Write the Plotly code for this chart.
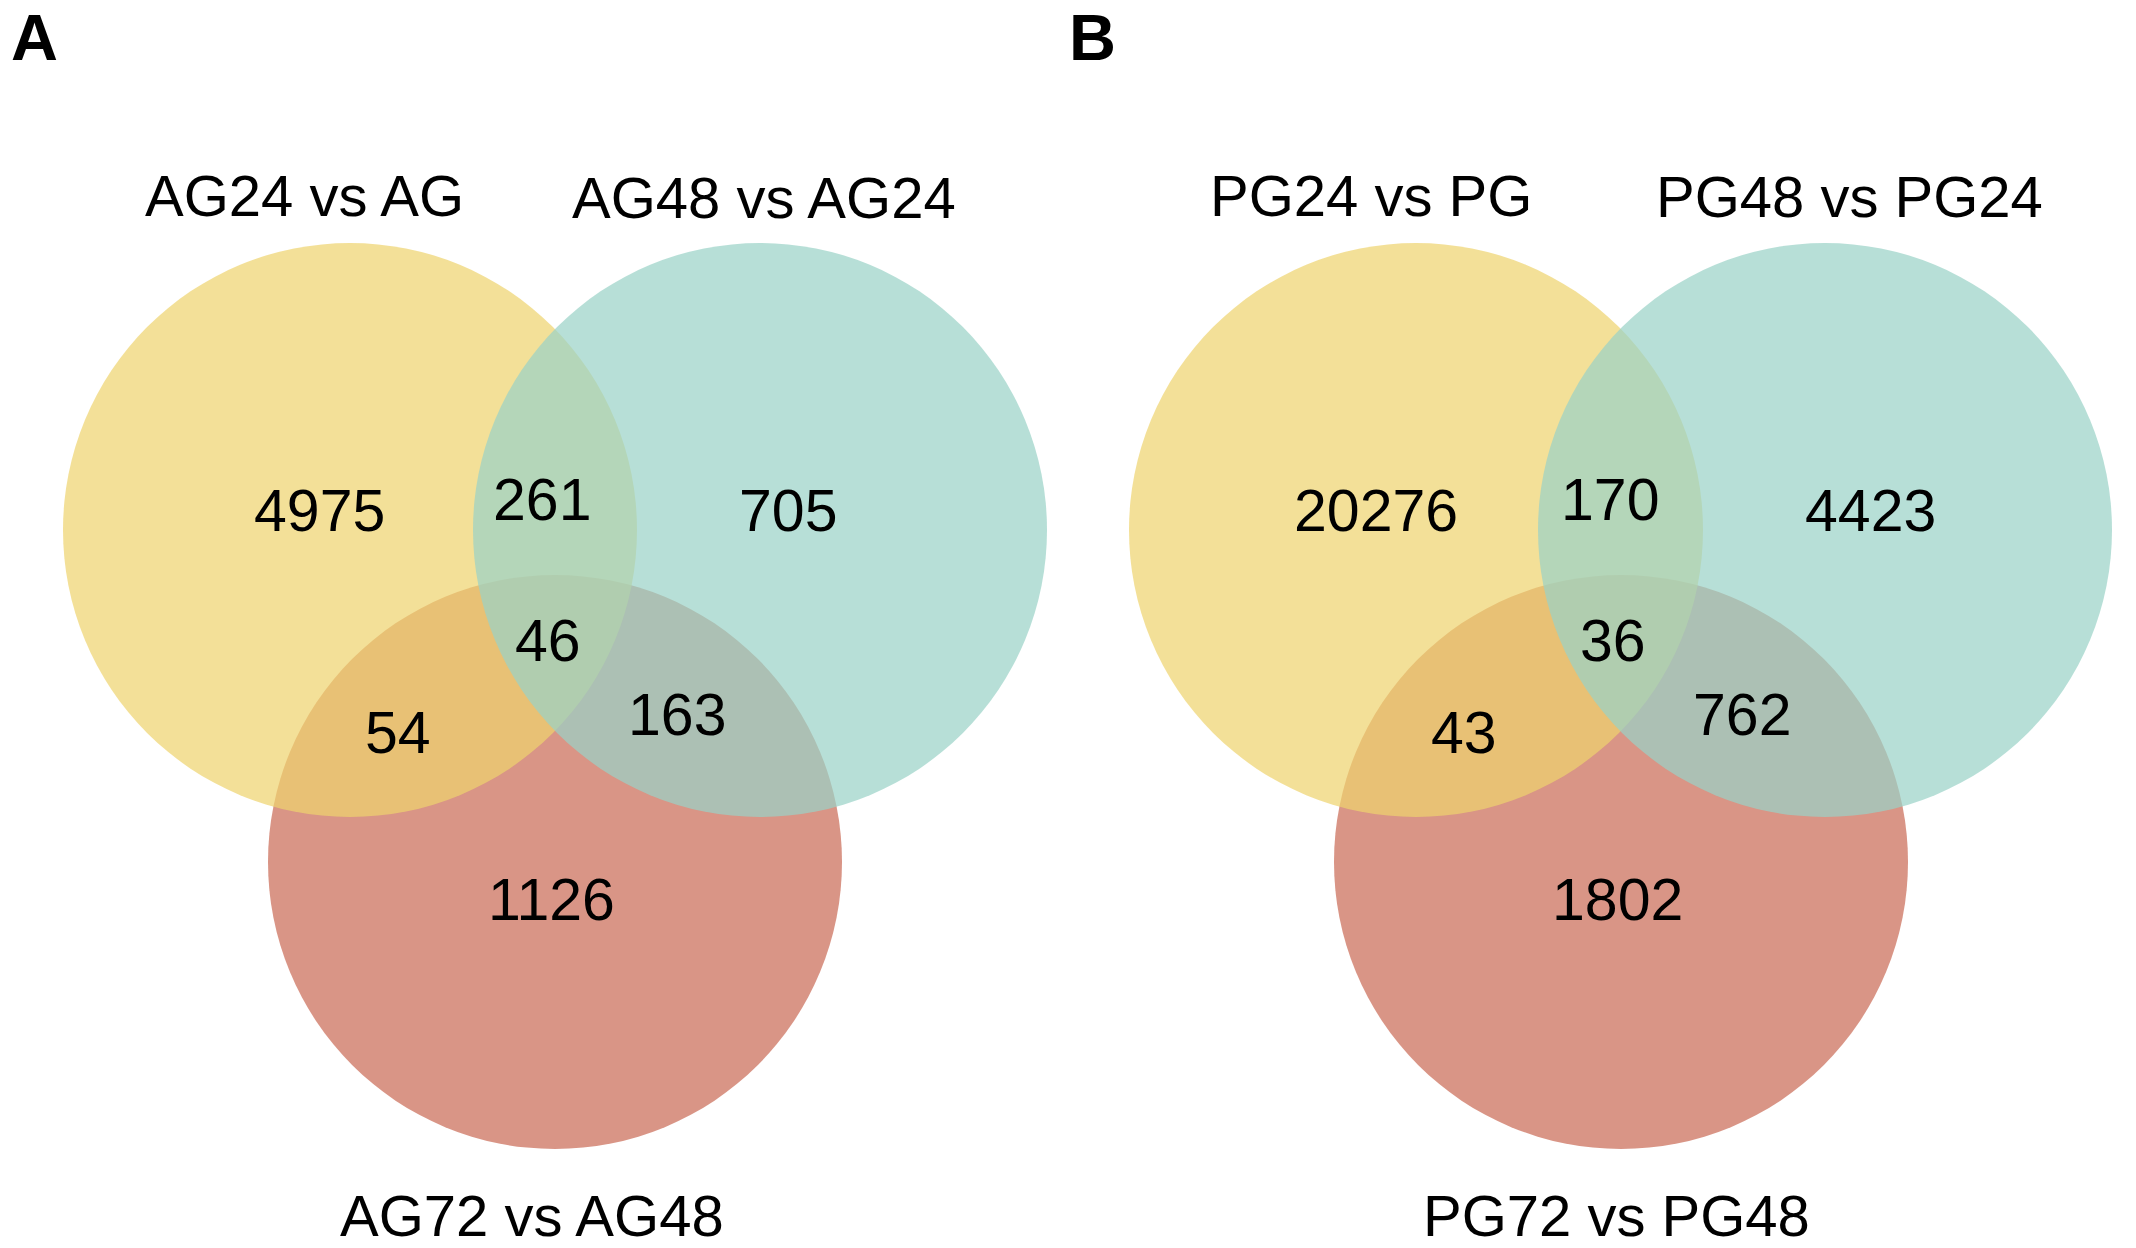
import plotly.graph_objects as go

# ---------------- data ----------------
panel_letters = ["A", "B"]
set_names_A = ["AG24 vs AG", "AG48 vs AG24", "AG72 vs AG48"]
set_names_B = ["PG24 vs PG", "PG48 vs PG24", "PG72 vs PG48"]
# region order: only1, only2, only3, 1&2, 1&3, 2&3, 1&2&3
regions = ["only1", "only2", "only3", "1&2", "1&3", "2&3", "1&2&3"]
counts_A = [4975, 705, 1126, 261, 54, 163, 46]
counts_B = [20276, 4423, 1802, 170, 43, 762, 36]

# ---------------- layout constants (pixel coordinates) ----------------
W, H = 2136, 1248
R = 287
FONT = "Liberation Sans, Arial, Helvetica, sans-serif"
colors = {"1": "#EED36E", "2": "#9AD2C7", "3": "#C96A55"}
ALPHA = 0.71

panels = [
    dict(letter_xy=(34, 37),
         circles={"1": (350, 530), "2": (760, 530), "3": (555, 862)},
         name_xy=[(304, 195), (764, 197), (532, 1215)],
         count_xy=[(319, 511), (788, 511), (551, 900), (542, 500), (398, 733), (677, 715), (548, 641)],
         names=set_names_A, counts=counts_A),
    dict(letter_xy=(1092, 37),
         circles={"1": (1416, 530), "2": (1825, 530), "3": (1621, 862)},
         name_xy=[(1371, 195), (1849, 196), (1616, 1215)],
         count_xy=[(1376, 511), (1870, 511), (1617, 900), (1610, 500), (1464, 733), (1742, 715), (1613, 641)],
         names=set_names_B, counts=counts_B),
]

fig = go.Figure()
shapes = []
annotations = []

for p, letter in zip(panels, panel_letters):
    # draw order: third set first, then first, then second (as in reference)
    for key in ["3", "1", "2"]:
        cx, cy = p["circles"][key]
        shapes.append(dict(type="circle", xref="x", yref="y",
                           x0=cx - R, x1=cx + R, y0=cy - R, y1=cy + R,
                           fillcolor=colors[key], opacity=ALPHA,
                           line=dict(width=0), layer="below"))
    lx, ly = p["letter_xy"]
    annotations.append(dict(x=lx, y=ly, xref="x", yref="y", text="<b>%s</b>" % letter,
                            showarrow=False, xanchor="center", yanchor="middle",
                            font=dict(family=FONT, size=65, color="black")))
    for (x, y), name in zip(p["name_xy"], p["names"]):
        annotations.append(dict(x=x, y=y, xref="x", yref="y", text=name,
                                showarrow=False, xanchor="center", yanchor="middle",
                                font=dict(family=FONT, size=58, color="black")))
    for (x, y), c in zip(p["count_xy"], p["counts"]):
        annotations.append(dict(x=x, y=y, xref="x", yref="y", text=str(c),
                                showarrow=False, xanchor="center", yanchor="middle",
                                font=dict(family=FONT, size=59, color="black")))

# invisible trace to anchor axes
fig.add_trace(go.Scatter(x=[0, W], y=[0, H], mode="markers",
                         marker=dict(opacity=0), hoverinfo="skip", showlegend=False))

fig.update_layout(
    width=W, height=H,
    margin=dict(l=0, r=0, t=0, b=0),
    paper_bgcolor="white", plot_bgcolor="white",
    shapes=shapes, annotations=annotations, showlegend=False,
    xaxis=dict(range=[0, W], visible=False, fixedrange=True),
    yaxis=dict(range=[H, 0], visible=False, fixedrange=True),
)

fig.write_html("out.html", config={"displayModeBar": False},
               post_script="document.body.style.margin='0';document.body.style.overflow='hidden';")
